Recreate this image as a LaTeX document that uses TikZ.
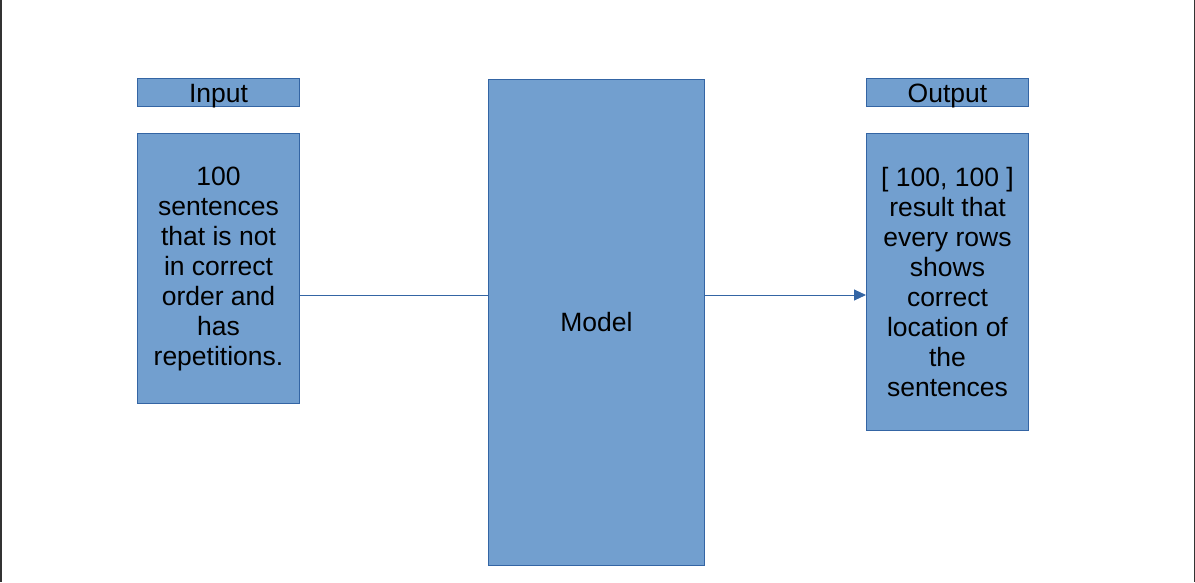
\documentclass[tikz,border=0pt]{standalone}
\usepackage{fontspec}
\setmainfont{Liberation Sans}
\usetikzlibrary{arrows.meta}
\definecolor{boxfill}{HTML}{729FCF}
\definecolor{boxline}{HTML}{3465A4}
\definecolor{edge}{HTML}{333333}
\tikzset{
  blk/.style={draw=boxline, fill=boxfill, line width=1pt, anchor=north west, inner sep=0pt,
    align=center, font=\fontsize{26.5}{30}\selectfont},
  lab/.style={blk, minimum width=162pt, minimum height=28pt, text height=19pt, text depth=0pt},
  conn/.style={draw=boxline, line width=1pt},
}
\begin{document}
\begin{tikzpicture}[x=1pt,y=-1pt]
\useasboundingbox (0,0) rectangle (1195,582);
\draw[edge, line width=2pt] (1,0) -- (1,582);
\draw[edge, line width=1.2pt] (1194.4,0) -- (1194.4,582);
\node[lab] (inlab) at (137,78) {Input};
\node[blk, minimum width=162pt, minimum height=270pt] (inbox) at (137,133)
  {100\\sentences\\that is not\\in correct\\order and\\has\\repetitions.};
\node[blk, minimum width=216pt, minimum height=486pt] (model) at (488,79) {Model};
\node[lab] (outlab) at (866,78) {Output};
\node[blk, minimum width=162pt, minimum height=297pt] (outbox) at (866,133)
  {[ 100, 100 ]\\result that\\every rows\\shows\\correct\\location of\\the\\sentences};
\coordinate (a1) at (inbox.east |- 0,295);
\coordinate (a2) at (model.west |- 0,295);
\coordinate (b1) at (model.east |- 0,295);
\coordinate (b2) at (outbox.west |- 0,295);
\draw[conn] (a1) -- (a2);
\draw[conn, -{Triangle[length=12pt,width=11pt]}] (b1) -- (b2);
\end{tikzpicture}
\end{document}
